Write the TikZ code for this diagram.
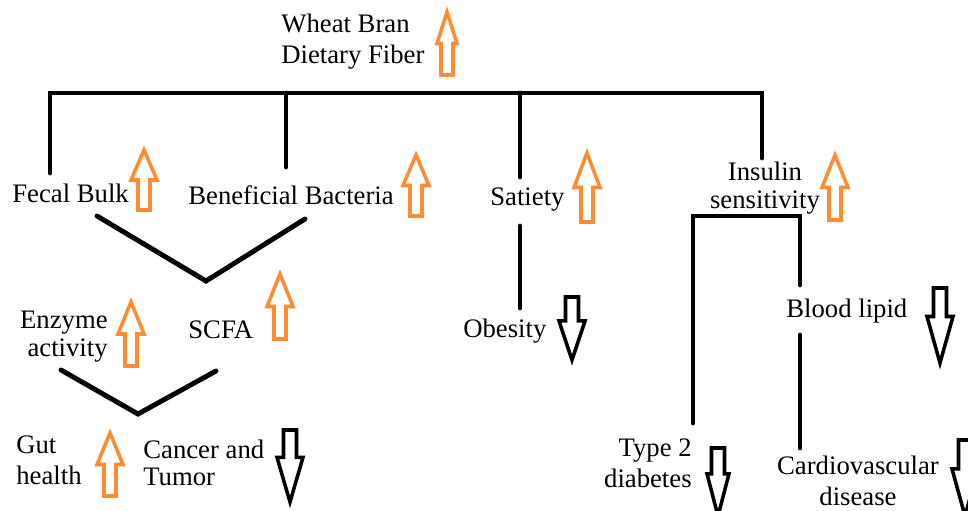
\documentclass[tikz,border=0pt]{standalone}
\usepackage{fontspec}
\setmainfont{Liberation Serif}
\usepackage{tikz}

\definecolor{uporange}{RGB}{255,140,50}

% hollow block arrows: [head half width]{x}{top}{bottom}
\newcommand{\upmark}[4][13]{%
  \pgfmathsetmacro{\hb}{#3+0.5*(#4-#3)}
  \draw[upline] (#2,#3) -- (#2+#1,\hb) -- (#2+6,\hb) -- (#2+6,#4)
    -- (#2-6,#4) -- (#2-6,\hb) -- (#2-#1,\hb) -- cycle;}
\newcommand{\downmark}[4][13]{%
  \pgfmathsetmacro{\hb}{#3+0.38*(#4-#3)}
  \draw[downline] (#2,#4) -- (#2+#1,\hb) -- (#2+6.5,\hb) -- (#2+6.5,#3)
    -- (#2-6.5,#3) -- (#2-6.5,\hb) -- (#2-#1,\hb) -- cycle;}

\begin{document}
\begin{tikzpicture}[x=0.02cm, y=-0.02cm, line cap=round,
    txt/.style={inner sep=0pt, font=\fontsize{15.2}{17.6}\selectfont},
    branch/.style={line width=2.8pt},
    upline/.style={draw=uporange, line width=2pt},
    downline/.style={draw=black, line width=2pt}]
    \useasboundingbox (0,0) rectangle (968,511);

    \node[txt, anchor=west, align=left] (fiber) at (281,42) {Wheat Bran\\Dietary Fiber};
    \node[txt, anchor=west] (fecal) at (12,193) {Fecal Bulk};
    \node[txt, anchor=west] (bacteria) at (188,195) {Beneficial Bacteria};
    \node[txt, anchor=west] (satiety) at (490,200) {Satiety};
    \node[txt, align=center, font=\fontsize{15.2}{15.6}\selectfont] (insulin) at (765,188) {Insulin\\sensitivity};
    \node[txt, anchor=west] (scfa) at (188,330) {SCFA};
    \node[txt, anchor=east, align=right, font=\fontsize{15.2}{16}\selectfont] (enzyme) at (108,337) {Enzyme\\activity};
    \node[txt, anchor=west] (obesity) at (463,331) {Obesity};
    \node[txt, anchor=west] (lipid) at (786,311) {Blood lipid};
    \node[txt, anchor=west, align=left] (gut) at (16,460) {Gut\\health};
    \node[txt, anchor=west, align=left, font=\fontsize{15.2}{15}\selectfont] (cancer) at (143,463) {Cancer and\\Tumor};
    \node[txt, anchor=east, align=right] (diabetes) at (692,463) {Type 2\\diabetes};
    \node[txt, align=center] (cvd) at (858,481) {Cardiovascular\\disease};

    % branch ends
    \coordinate (bar) at (0,93);
    \coordinate (split) at (0,216);
    \coordinate (fecal in) at (50,173);
    \coordinate (bacteria in) at (286,167);
    \coordinate (satiety in) at (520,177);
    \coordinate (insulin in) at (762,158);
    \coordinate (fecal out) at (97,216);
    \coordinate (bacteria out) at (305,219);
    \coordinate (scfa in) at (206,281);
    \coordinate (enzyme out) at (61,370);
    \coordinate (scfa out) at (216,371);
    \coordinate (gut in) at (138,414);
    \coordinate (satiety out) at (520,226);
    \coordinate (obesity in) at (520,308);
    \coordinate (diabetes in) at (693,423);
    \coordinate (lipid in) at (800,285);
    \coordinate (lipid out) at (800,335);
    \coordinate (cvd in) at (800,448);

    \draw[branch] (fecal in) -- (fecal in |- bar) -- (insulin in |- bar) -- (insulin in);
    \draw[branch] (bacteria in) -- (bacteria in |- bar);
    \draw[branch] (satiety in) -- (satiety in |- bar);
    \draw[branch] (fecal out) -- (scfa in) -- (bacteria out);
    \draw[branch] (enzyme out) -- (gut in) -- (scfa out);
    \draw[branch] (satiety out) -- (obesity in);
    \draw[branch] (diabetes in) -- (diabetes in |- split) -- (lipid in |- split) -- (lipid in);
    \draw[branch] (lipid out) -- (cvd in);

    % up and down marks
    \upmark[10]{447}{12}{75}
    \upmark{144}{150}{210}
    \upmark{416}{155}{216}
    \upmark{587}{153}{222}
    \upmark{835}{155}{220}
    \upmark{280}{274}{339}
    \upmark{131}{302}{366}
    \upmark{110}{433}{496}
    \downmark{290}{430}{502}
    \downmark{572}{297}{360}
    \downmark{940}{288}{363}
    \downmark[11]{718}{448}{516}
    \downmark{965}{440}{516}
\end{tikzpicture}
\end{document}
